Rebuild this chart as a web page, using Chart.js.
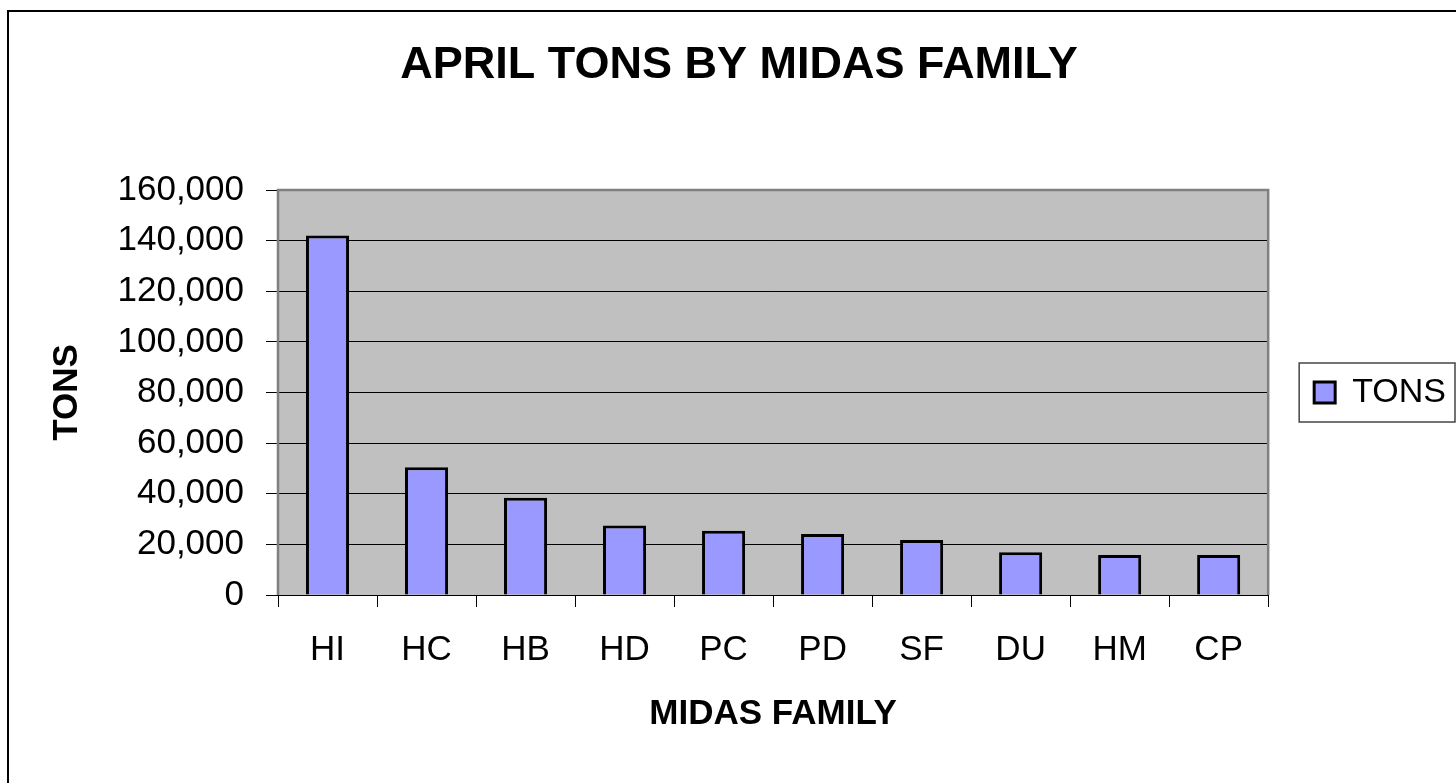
<!DOCTYPE html>
<html>
<head>
<meta charset="utf-8">
<title>April tons by MIDAS family</title>
<script src="https://cdn.jsdelivr.net/npm/chart.js@4.4.1/dist/chart.umd.min.js"></script>
<style>html,body{margin:0;background:#fff}canvas{display:block}</style>
</head>
<body>
<canvas id="c" width="1456" height="783"></canvas>
<script>
// values
const FAMILIES = ['HI', 'HC', 'HB', 'HD', 'PC', 'PD', 'SF', 'DU', 'HM', 'CP'];
const TONS = [142000, 50500, 38400, 27500, 25400, 24100, 21700, 16900, 15800, 15800];
const Y_MAX = 160000, Y_STEP = 20000;

const FONT = "Arial, 'Liberation Sans', sans-serif";
const INK = '#000', PLOT_BG = '#c0c0c0', BAR = '#9999ff', EDGE = '#808080';

// white page, outer frame, grey plot area, legend border
const backdrop = {
  id: 'backdrop',
  beforeDraw(chart) {
    const { ctx, chartArea: a } = chart;
    ctx.save();
    ctx.fillStyle = '#fff'; ctx.fillRect(0, 0, chart.width, chart.height);
    ctx.strokeStyle = INK; ctx.lineWidth = 2;
    ctx.strokeRect(8, 11, chart.width + 40, chart.height + 40);
    ctx.fillStyle = PLOT_BG; ctx.fillRect(a.left, a.top, a.right - a.left, a.bottom - a.top);
    ctx.restore();
  },
  beforeDatasetsDraw(chart) {
    const { ctx, chartArea: a } = chart;
    ctx.save();
    ctx.strokeStyle = EDGE; ctx.lineWidth = 2.5;
    ctx.beginPath();
    ctx.moveTo(a.left, a.bottom); ctx.lineTo(a.left, a.top); ctx.lineTo(a.right, a.top); ctx.lineTo(a.right, a.bottom);
    ctx.stroke();
    ctx.restore();
  },
  afterDraw(chart) {
    const hit = chart.legend.legendHitBoxes[0]; if (!hit) return;
    const { ctx } = chart, cy = hit.top + hit.height / 2;
    ctx.save();
    ctx.strokeStyle = '#444'; ctx.lineWidth = 1.5;
    ctx.strokeRect(hit.left - 15, cy - 29.5, chart.width - 1 - (hit.left - 15), 59);
    ctx.restore();
  }
};

new Chart(document.getElementById('c').getContext('2d'), {
  type: 'bar',
  data: {
    labels: FAMILIES,
    datasets: [{
      label: 'TONS', data: TONS,
      backgroundColor: BAR, borderColor: INK, borderWidth: 3,
      barPercentage: 0.435, categoryPercentage: 1
    }]
  },
  options: {
    responsive: false, animation: false,
    layout: { padding: { left: 22, top: 10, right: 0, bottom: 43 } },
    plugins: {
      title: {
        display: true, text: 'APRIL TONS BY MIDAS FAMILY', color: INK,
        font: { family: FONT, size: 45, weight: 'bold' }, padding: { top: 29, bottom: 97 }
      },
      legend: {
        position: 'right', fullSize: false,
        labels: { color: INK, font: { family: FONT, size: 34 }, boxWidth: 21, boxHeight: 21, padding: 46 }
      },
      tooltip: { enabled: false }
    },
    scales: {
      x: {
        afterFit: (s) => { s.height = 145; },
        grid: { offset: true, drawOnChartArea: false, color: INK, tickLength: 12 },
        border: { color: INK, width: 1 },
        ticks: { color: INK, font: { family: FONT, size: 35 }, padding: 22, maxRotation: 0 },
        title: { display: true, text: 'MIDAS FAMILY', color: INK, font: { family: FONT, size: 35, weight: 'bold' }, padding: { top: 0, bottom: 5 } }
      },
      y: {
        min: 0, max: Y_MAX,
        afterFit: (s) => { s.width = 256; },
        grid: { color: INK, lineWidth: 1, tickLength: 12 },
        border: { display: false },
        ticks: { stepSize: Y_STEP, color: INK, font: { family: FONT, size: 35 }, padding: 22, callback: (v) => v.toLocaleString('en-US') },
        title: { display: true, text: 'TONS', color: INK, font: { family: FONT, size: 35, weight: 'bold' }, padding: { top: 24, bottom: 0 } }
      }
    }
  },
  plugins: [backdrop]
});
</script>
</body>
</html>
